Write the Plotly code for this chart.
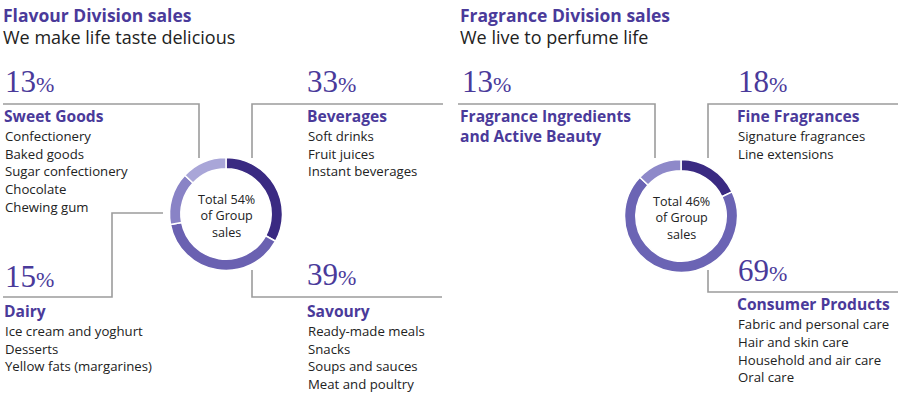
import plotly.graph_objects as go

# ---------------- data ----------------
flavour_labels = ["Beverages", "Savoury", "Dairy", "Sweet Goods"]
flavour_values = [33, 39, 15, 13]
flavour_total = 54
fragrance_labels = ["Fine Fragrances", "Consumer Products", "Fragrance Ingredients and Active Beauty"]
fragrance_values = [18, 69, 13]
fragrance_total = 46

sweet_items = ["Confectionery", "Baked goods", "Sugar confectionery", "Chocolate", "Chewing gum"]
beverage_items = ["Soft drinks", "Fruit juices", "Instant beverages"]
dairy_items = ["Ice cream and yoghurt", "Desserts", "Yellow fats (margarines)"]
savoury_items = ["Ready-made meals", "Snacks", "Soups and sauces", "Meat and poultry"]
fine_items = ["Signature fragrances", "Line extensions"]
consumer_items = ["Fabric and personal care", "Hair and skin care", "Household and air care", "Oral care"]

titles = ["Flavour Division sales", "Fragrance Division sales"]
subtitles = ["We make life taste delicious", "We live to perfume life"]

# ---------------- styles ----------------
W, H = 900, 400
PURPLE = "#4a3a9a"
TEXT = "#222222"
LINE = "#9c9c9c"
flavour_colors = ["#3a2a82", "#6a61b1", "#8983c6", "#a9a6d8"]
fragrance_colors = ["#3a2a82", "#6b64b4", "#8e89c9"]
SANS = "Open Sans"
SERIF = "Liberation Serif"

fig = go.Figure()


def dom(cx, cy, r):
    return dict(x=[(cx - r) / W, (cx + r) / W], y=[(H - cy - r) / H, (H - cy + r) / H])


fig.add_trace(go.Pie(labels=flavour_labels, values=flavour_values, sort=False,
                     direction="clockwise", rotation=0, hole=0.8,
                     marker=dict(colors=flavour_colors, line=dict(color="white", width=1.5)),
                     textinfo="none", hoverinfo="label+percent", showlegend=False,
                     domain=dom(226, 214, 56.5)))
fig.add_trace(go.Pie(labels=fragrance_labels, values=fragrance_values, sort=False,
                     direction="clockwise", rotation=0, hole=0.8,
                     marker=dict(colors=fragrance_colors, line=dict(color="white", width=1.5)),
                     textinfo="none", hoverinfo="label+percent", showlegend=False,
                     domain=dom(681, 216, 56.5)))

ann = []


def txt(x, y, s, size=13.2, color=TEXT, bold=False, family=SANS, xanchor="left"):
    ann.append(dict(x=x, y=y, xref="x", yref="y", text=s, showarrow=False,
                    xanchor=xanchor, yanchor="middle", align=xanchor,
                    font=dict(family=family, size=size, color=color,
                              weight="bold" if bold else "normal")))


def pct(x, y, v):
    txt(x, y, f"{v}<span style='font-size:22px'>%</span>", size=31, color=PURPLE, family=SERIF)


def items(x, y0, lst, step=17.8):
    for i, s in enumerate(lst):
        txt(x, y0 + i * step, s)


HEAD = 15.6

# titles
txt(1, 15, titles[0], size=17.5, color=PURPLE, bold=True)
txt(1, 37, subtitles[0], size=18)
txt(458, 15, titles[1], size=17.5, color=PURPLE, bold=True)
txt(458, 37, subtitles[1], size=18)

# flavour panel
fl = dict(zip(flavour_labels, flavour_values))
pct(3, 81, fl["Sweet Goods"])
txt(2, 116, "Sweet Goods", size=HEAD, color=PURPLE, bold=True)
items(3, 136, sweet_items, step=17.7)

pct(305, 81, fl["Beverages"])
txt(305, 116, "Beverages", size=HEAD, color=PURPLE, bold=True)
items(306, 136, beverage_items, step=17.5)

pct(3, 276, fl["Dairy"])
txt(2, 311, "Dairy", size=HEAD, color=PURPLE, bold=True)
items(3, 331, dairy_items, step=17.7)

pct(305, 274, fl["Savoury"])
txt(305, 311, "Savoury", size=HEAD, color=PURPLE, bold=True)
items(306, 331, savoury_items, step=17.5)

# fragrance panel
fr = dict(zip(fragrance_labels, fragrance_values))
pct(460, 81, fr["Fragrance Ingredients and Active Beauty"])
txt(458, 126, "Fragrance Ingredients<br>and Active Beauty", size=HEAD, color=PURPLE, bold=True)

pct(736, 81, fr["Fine Fragrances"])
txt(735, 116, "Fine Fragrances", size=HEAD, color=PURPLE, bold=True)
items(736, 136, fine_items, step=17.5)

pct(736, 270, fr["Consumer Products"])
txt(735, 304, "Consumer Products", size=HEAD, color=PURPLE, bold=True)
items(736, 324, consumer_items, step=17.8)

# donut centre text
for cx, cy, tot in [(226, 216, flavour_total), (681, 218, fragrance_total)]:
    txt(cx, cy, f"Total {tot}%<br>of Group<br>sales", size=12.6, xanchor="center")

# leader lines
paths = [
    [(3, 104), (199, 104), (199, 158)],
    [(443, 104), (252, 104), (252, 158)],
    [(163, 213), (112, 213), (112, 297), (3, 297)],
    [(252, 270), (252, 297), (442, 297)],
    [(458, 104), (655, 104), (655, 158)],
    [(898, 104), (708, 104), (708, 158)],
    [(708, 270), (708, 292), (898, 292)],
]
shapes = []
for p in paths:
    d = "M " + " L ".join(f"{x},{y}" for x, y in p)
    shapes.append(dict(type="path", path=d, xref="x", yref="y",
                       line=dict(color=LINE, width=1.6)))

fig.update_layout(
    width=W, height=H, margin=dict(l=0, r=0, t=0, b=0),
    paper_bgcolor="white", plot_bgcolor="white",
    xaxis=dict(range=[0, W], visible=False, fixedrange=True),
    yaxis=dict(range=[H, 0], visible=False, fixedrange=True),
    annotations=ann, shapes=shapes, showlegend=False,
)

fig.write_html("out.html")
